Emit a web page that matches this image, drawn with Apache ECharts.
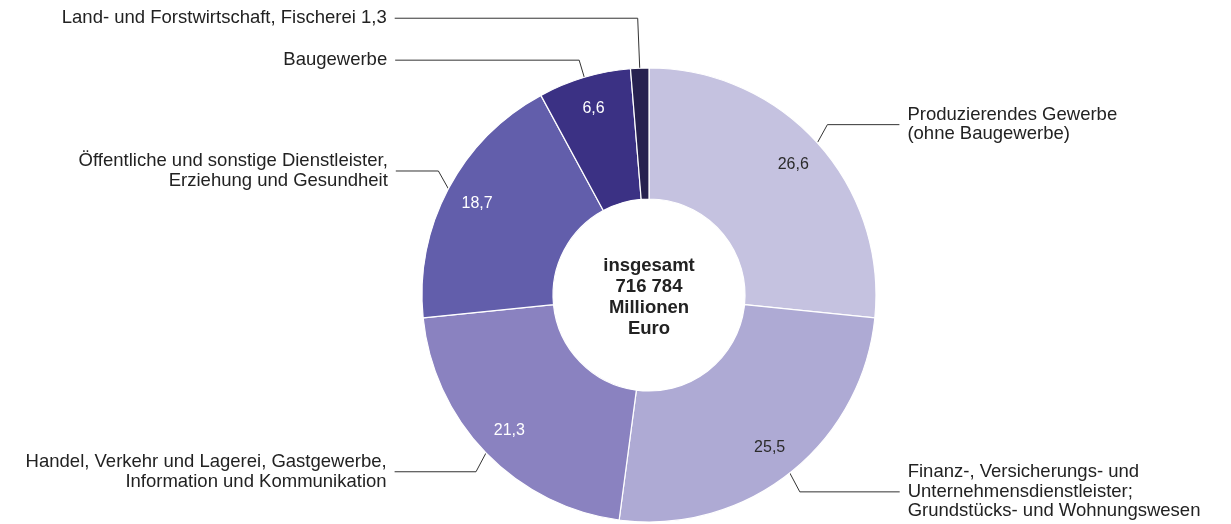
<!DOCTYPE html>
<html>
<head>
<meta charset="utf-8">
<script src="https://cdn.jsdelivr.net/npm/echarts@6/dist/echarts.min.js"></script>
<style>
html,body{margin:0;padding:0;background:#fff;}
#chart{width:1231px;height:524px;}
</style>
</head>
<body>
<div id="chart"></div>
<script>
// ---- data ----
const categories = [
  'Produzierendes Gewerbe\n(ohne Baugewerbe)',
  'Finanz-, Versicherungs- und\nUnternehmensdienstleister;\nGrundstücks- und Wohnungswesen',
  'Handel, Verkehr und Lagerei, Gastgewerbe,\nInformation und Kommunikation',
  'Öffentliche und sonstige Dienstleister,\nErziehung und Gesundheit',
  'Baugewerbe',
  'Land- und Forstwirtschaft, Fischerei'
];
const values = [26.6, 25.5, 21.3, 18.7, 6.6, 1.3];
const centerLines = ['insgesamt', '716 784', 'Millionen', 'Euro'];

// ---- styles ----
const FONT = '"Liberation Sans", Arial, Helvetica, sans-serif';
const colors = ['#c5c2e0', '#aeaad4', '#8a82c0', '#625eab', '#3b3184', '#27214f'];
const innerLabelColors = ['#2b2b2b', '#2b2b2b', '#ffffff', '#ffffff', '#ffffff', '#ffffff'];
const lineLen = [27, 24, 27, 38, 18, 50];
const lineLen2 = [62, 95, 72, 19, 184, 243];
const SMALL = 2; // values below this are written next to the outer label

const fmt = v => v.toFixed(1).replace('.', ',');

const outerData = categories.map((c, i) => ({
  name: c,
  value: values[i],
  itemStyle: { color: colors[i] },
  labelLine: { length: lineLen[i], length2: lineLen2[i] }
}));
const innerData = categories.map((c, i) => ({
  name: c,
  value: values[i],
  label: { color: innerLabelColors[i], show: values[i] >= SMALL }
}));

const chart = echarts.init(document.getElementById('chart'), null, { renderer: 'canvas' });
chart.setOption({
  backgroundColor: '#ffffff',
  animation: false,
  series: [
    {
      type: 'pie',
      center: [649, 295],
      radius: [96, 227],
      startAngle: 90,
      clockwise: true,
      avoidLabelOverlap: true,
      silent: true,
      itemStyle: { borderColor: '#ffffff', borderWidth: 1.2 },
      label: {
        show: true,
        position: 'outside',
        alignTo: 'labelLine',
        bleedMargin: 0,
        distanceToLabelLine: 8,
        fontFamily: FONT,
        fontSize: 18.5,
        lineHeight: 19.5,
        color: '#222222',
        formatter: p => p.value < SMALL ? p.name + ' ' + fmt(p.value) : p.name
      },
      labelLine: {
        show: true,
        lineStyle: { color: '#333333', width: 1 }
      },
      labelLayout: function (params) {
        const pts = params.labelLinePoints;
        if (!pts || pts.length < 3) return {};
        const p0 = pts[0], p1 = pts[1], p2 = pts[2];
        const sign = p2[0] < p1[0] ? -1 : 1;
        const dx = Math.min(10, Math.abs(p1[0] - p0[0]));
        return { labelLinePoints: [[p0[0], p0[1]], [p0[0] + sign * dx, p1[1]], [p2[0], p2[1]]] };
      },
      data: outerData
    },
    {
      type: 'pie',
      center: [649, 295],
      radius: [156, 227],
      startAngle: 90,
      clockwise: true,
      silent: true,
      itemStyle: { color: 'rgba(0,0,0,0)', borderWidth: 0 },
      label: {
        show: true,
        position: 'inside',
        fontFamily: FONT,
        fontSize: 16,
        formatter: p => fmt(p.value)
      },
      labelLine: { show: false },
      data: innerData
    }
  ],
  graphic: [{
    type: 'text',
    x: 649,
    y: 297,
    silent: true,
    style: {
      text: centerLines.join('\n'),
      align: 'center',
      verticalAlign: 'middle',
      font: 'bold 18.5px "Liberation Sans", Arial, Helvetica, sans-serif',
      lineHeight: 21,
      fill: '#222222'
    }
  }]
});
</script>
</body>
</html>
